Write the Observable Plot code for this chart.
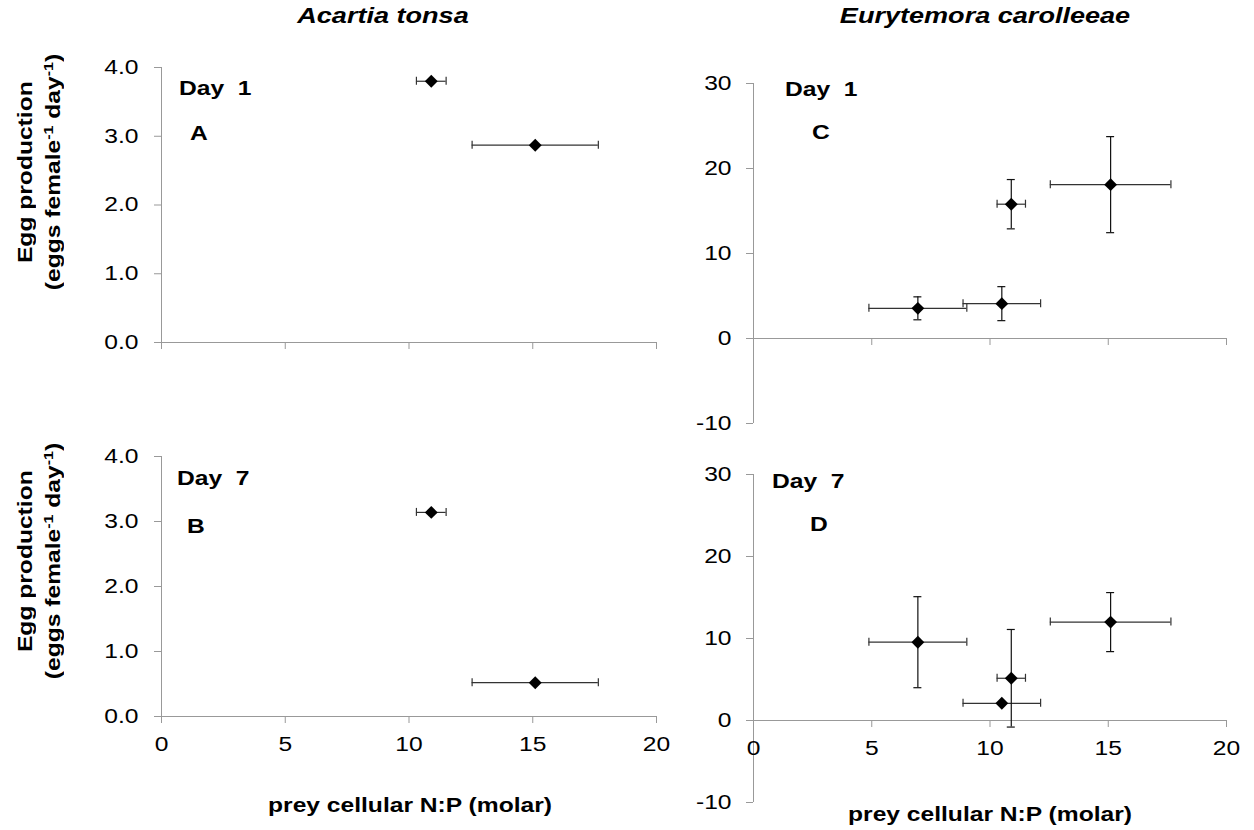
<!DOCTYPE html>
<html><head><meta charset="utf-8">
<script src="https://cdn.jsdelivr.net/npm/d3@7"></script>
<script src="https://cdn.jsdelivr.net/npm/@observablehq/plot@0.6"></script>
<style>
body{margin:0;background:#fff;font-family:"Liberation Sans",Arial,sans-serif;color:#000;}
#wrap{position:relative;width:1254px;height:830px;overflow:hidden;background:#fff;}
.abs{position:absolute;white-space:pre;}
.c{transform:translateX(-50%);}
.s{display:inline-block;transform:scaleX(1.23);}
.sl{transform-origin:0 50%;}
.sc{transform-origin:50% 50%;}
.title{font-weight:bold;font-style:italic;font-size:22px;}
.day{font-weight:bold;font-size:20px;}
.let{font-weight:bold;font-size:20px;}
.xt{font-weight:bold;font-size:20px;}
.ylab{position:absolute;font-weight:bold;font-size:20px;text-align:center;white-space:nowrap;transform:translate(-50%,-50%) rotate(-90deg);line-height:28px;}
.ylab sup{font-size:13px;line-height:0;vertical-align:7px;}
</style></head><body><div id="wrap"></div>
<script>
// ---- data ----
const speciesTitles = ["Acartia tonsa", "Eurytemora carolleeae"];
const dayLabels = ["Day  1", "Day  7"];
const panelLetters = ["A", "B", "C", "D"];
const xTicks = [0, 5, 10, 15, 20];
const acartiaYTicks = [0, 1, 2, 3, 4];
const eurYTicks = [-10, 0, 10, 20, 30];

const npAcartia = [10.9, 15.1];
const npAcartiaErr = [0.6, 2.55];
const acartiaDay1 = [3.8, 2.87];
const acartiaDay7 = [3.14, 0.52];

const npEury = [6.95, 10.5, 10.9, 15.1];
const npEuryErr = [2.07, 1.64, 0.6, 2.55];
const eurDay1 = [3.55, 4.1, 15.8, 18.1];
const eurDay1Err = [1.35, 2.0, 2.9, 5.65];
const eurDay7 = [9.55, 2.1, 5.15, 12.0];
const eurDay7Err = [5.55, 0, 5.95, 3.6];

const axisGray = "#999";
const wrap = document.getElementById("wrap");

function stretch(svg, k) {
  svg.querySelectorAll("text").forEach(t => {
    const L = t.getComputedTextLength();
    if (L > 0) { t.setAttribute("textLength", L * k); t.setAttribute("lengthAdjust", "spacingAndGlyphs"); }
  });
}

function panel(o) {
  const rows = o.np.map((x, i) => ({x, xe: o.npErr[i], y: o.y[i], ye: o.yErr ? o.yErr[i] : 0}));
  const vr = rows.filter(d => d.ye > 0);
  const marks = [
    Plot.ruleX([0], {stroke: axisGray}),
    Plot.ruleY([0], {stroke: axisGray}),
    Plot.ruleX(xTicks, {x: d => d, y1: () => 0, y2: () => 0, insetTop: 0, insetBottom: -7, stroke: axisGray}),
    Plot.axisY({ticks: o.yTicks, tickSize: 7, tickPadding: o.pad, stroke: axisGray, fill: "black", fontSize: 20, tickFormat: o.fmt, label: null}),
    Plot.ruleY(rows, {y: "y", x1: d => d.x - d.xe, x2: d => d.x + d.xe, stroke: "#333", strokeWidth: 1.2}),
    Plot.ruleX(rows, {x: d => d.x - d.xe, y1: "y", y2: "y", insetTop: -4, insetBottom: -4, stroke: "#333", strokeWidth: 1.2}),
    Plot.ruleX(rows, {x: d => d.x + d.xe, y1: "y", y2: "y", insetTop: -4, insetBottom: -4, stroke: "#333", strokeWidth: 1.2}),
    Plot.ruleX(vr, {x: "x", y1: d => d.y - d.ye, y2: d => d.y + d.ye, stroke: "#111", strokeWidth: 1.2}),
    Plot.ruleY(vr, {y: d => d.y - d.ye, x1: "x", x2: "x", insetLeft: -4, insetRight: -4, stroke: "#111", strokeWidth: 1.2}),
    Plot.ruleY(vr, {y: d => d.y + d.ye, x1: "x", x2: "x", insetLeft: -4, insetRight: -4, stroke: "#111", strokeWidth: 1.2}),
    Plot.dot(rows, {x: "x", y: "y", symbol: "diamond2", r: 5.8, fill: "black", stroke: "none"})
  ];
  if (o.xLabels) marks.push(Plot.text(xTicks, {x: d => d, y: () => 0, dy: 28, text: d => String(d), fontSize: 20, fill: "black"}));
  const svg = Plot.plot({
    width: o.w, height: o.h,
    marginLeft: o.mL, marginRight: o.mR, marginTop: o.mT, marginBottom: o.mB,
    x: {domain: [0, 20], axis: null},
    y: {domain: o.yDomain, label: null},
    style: {fontFamily: "Liberation Sans, Arial, sans-serif", background: "transparent", overflow: "visible", color: "black"},
    marks
  });
  const d = document.createElement("div");
  d.style.position = "absolute"; d.style.left = o.left + "px"; d.style.top = o.top + "px";
  d.appendChild(svg);
  wrap.appendChild(d);
  stretch(svg, 1.23);
}

const fmt1 = d => d.toFixed(1);
const fmt0 = d => String(d);

panel({np: npAcartia, npErr: npAcartiaErr, y: acartiaDay1, yErr: null, yDomain: [0, 4], yTicks: acartiaYTicks, fmt: fmt1, pad: 16, xLabels: false,
  left: 90, top: 45, w: 580, h: 315, mL: 71, mR: 14, mT: 22, mB: 18});
panel({np: npAcartia, npErr: npAcartiaErr, y: acartiaDay7, yErr: null, yDomain: [0, 4], yTicks: acartiaYTicks, fmt: fmt1, pad: 16, xLabels: true,
  left: 90, top: 430, w: 580, h: 340, mL: 71, mR: 14, mT: 26, mB: 54});
panel({np: npEury, npErr: npEuryErr, y: eurDay1, yErr: eurDay1Err, yDomain: [-10, 30], yTicks: eurYTicks, fmt: fmt0, pad: 15, xLabels: false,
  left: 680, top: 60, w: 565, h: 380, mL: 73, mR: 19, mT: 23, mB: 17});
panel({np: npEury, npErr: npEuryErr, y: eurDay7, yErr: eurDay7Err, yDomain: [-10, 30], yTicks: eurYTicks, fmt: fmt0, pad: 15, xLabels: true,
  left: 680, top: 450, w: 565, h: 370, mL: 73, mR: 19, mT: 24, mB: 18});

function addText(txt, cls, left, top, centered) {
  const d = document.createElement("div");
  d.className = "abs " + cls + (centered ? " c" : "");
  d.style.left = left + "px"; d.style.top = top + "px";
  const s = document.createElement("span");
  s.className = "s " + (centered ? "sc" : "sl");
  s.textContent = txt;
  d.appendChild(s);
  wrap.appendChild(d);
}
addText(speciesTitles[0], "title", 383, 3, true);
addText(speciesTitles[1], "title", 985, 3, true);
addText(dayLabels[0], "day", 179, 77, false);
addText(panelLetters[0], "let", 190, 122, false);
addText(dayLabels[1], "day", 177, 467, false);
addText(panelLetters[1], "let", 187, 515, false);
addText(dayLabels[0], "day", 785, 78, false);
addText(panelLetters[2], "let", 812, 121, false);
addText(dayLabels[1], "day", 772, 470, false);
addText(panelLetters[3], "let", 810, 513, false);
addText("prey cellular N:P (molar)", "xt", 410, 794, true);
addText("prey cellular N:P (molar)", "xt", 990, 803, true);

function addYLab(cy) {
  const d = document.createElement("div");
  d.className = "ylab";
  d.style.left = "39px"; d.style.top = cy + "px";
  d.innerHTML = '<div><span class="s sc">Egg production</span></div>' +
    '<div><span class="s sc">(eggs female<sup>-1</sup> day<sup>-1</sup>)</span></div>';
  wrap.appendChild(d);
}
addYLab(172);
addYLab(561);
</script>
</body></html>
